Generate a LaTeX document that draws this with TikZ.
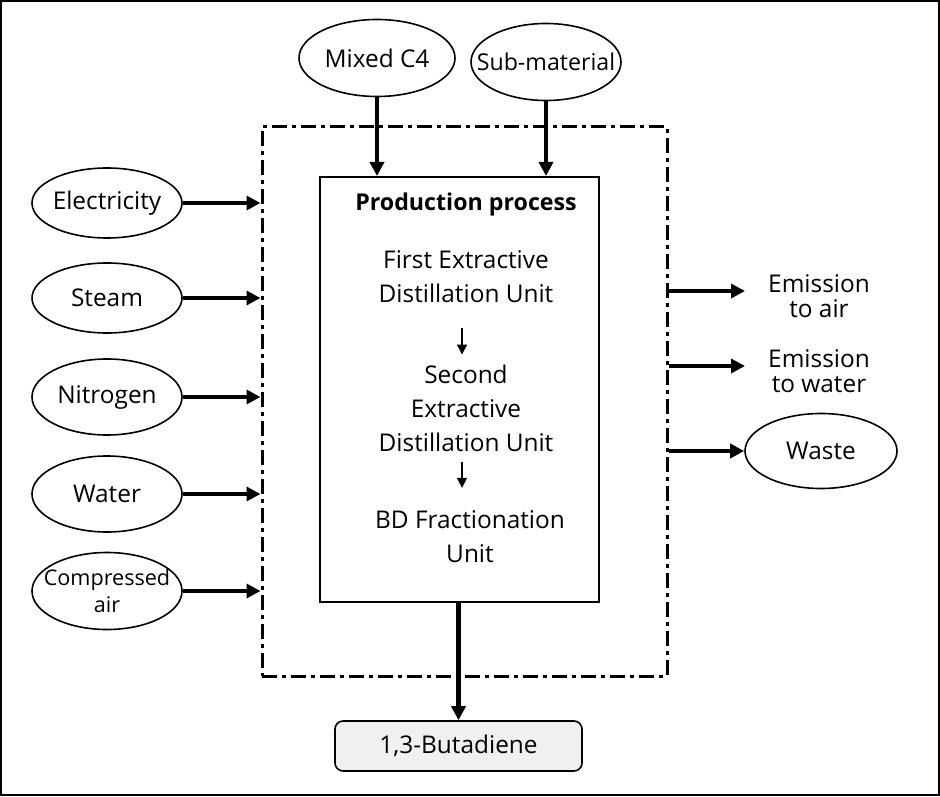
\documentclass[tikz,border=0pt]{standalone}
\usepackage{fontspec}
\setmainfont{Open Sans}
\usetikzlibrary{shapes.geometric,arrows.meta}

\begin{document}
\begin{tikzpicture}
  [x=0.5pt,y=-0.5pt,every node/.style={font=\fontsize{12.2}{17}\selectfont,align=center}]
  \tikzstyle{src} = [ellipse,draw,line width=0.8pt,minimum width=75pt,minimum height=36pt,inner xsep=-15pt,inner ysep=0pt]
  \tikzstyle{flow} = [line width=2.3pt,-{Triangle[length=7pt,width=7pt]}]
  \tikzstyle{link} = [line width=0.7pt,-{Triangle[length=5pt,width=5pt]}]
  \tikzstyle{bound} = [draw,line width=1.5pt,dash pattern=on 7.5pt off 2.5pt on 2pt off 2.5pt]

  \useasboundingbox (0,0) rectangle (940,796);
  \draw[line width=1.2pt] (1,1) rectangle (939,795);

  % system boundary and process box
  \node[bound,minimum width=202.5pt,minimum height=274.5pt] (sys) at (464.5,401.5) {};
  \node[draw,line width=1pt,minimum width=139.5pt,minimum height=212.5pt] (proc) at (459.5,389.5) {};

  \node[font=\fontsize{11.6}{17}\selectfont\bfseries] (title) at (466,204) {Production process};
  \node (u1) at (466,277) {First Extractive\\Distillation Unit};
  \node (u2) at (466,408) {Second\\Extractive\\Distillation Unit};
  \node (u3) at (470,537) {BD Fractionation\\Unit};
  \draw[link,shorten <=9pt,shorten >=1.5pt] ([xshift=-2pt]u1.south) -- ([xshift=-2pt]u1.south |- u2.north);
  \draw[link,shorten <=2pt,shorten >=8pt] ([xshift=-2pt]u2.south) -- ([xshift=-2pt]u2.south |- u3.north);

  % raw materials
  \node[src,minimum width=78pt,minimum height=38.5pt] (mix) at (377,58) {Mixed C4};
  \node[src,minimum width=75pt,minimum height=38.5pt,font=\fontsize{11.6}{17}\selectfont] (sub) at (546,62) {Sub-material};
  \draw[flow] (mix) -- (mix |- proc.north);
  \draw[flow] (sub) -- (sub |- proc.north);

  % utilities
  \foreach \n/\y/\h/\t/\f in {1/203/35/Electricity/12.2, 2/298/35/Steam/12.2, 3/397/38/Nitrogen/12.2, 4/494/38/Water/12.2, 5/591/38.5/{Compressed\\air}/10.8}
  {
    \node[src,minimum height=\h pt,font=\fontsize{\f}{13.5}\selectfont] (e\n) at (107,\y) {\t};
    \draw[flow] (e\n) -- (e\n -| sys.west);
  }

  % outputs
  \node[font=\fontsize{12.2}{12.5}\selectfont] (em1) at (819,296) {Emission\\to air};
  \node[font=\fontsize{12.2}{12.5}\selectfont] (em2) at (819,371) {Emission\\to water};
  \node[src,minimum width=76pt,minimum height=37.5pt] (waste) at (821,451) {Waste};
  \coordinate (a1) at (745,291);
  \coordinate (a2) at (745,366);
  \draw[flow] (a1 -| sys.east) -- (a1);
  \draw[flow] (a2 -| sys.east) -- (a2);
  \draw[flow] (waste -| sys.east) -- (waste);

  % product
  \node[draw,rounded corners=4pt,fill=gray!12,line width=0.8pt,minimum width=123.5pt,minimum height=25pt] (bd) at (458.5,746) {1,3-Butadiene};
  \draw[flow] (proc.south -| bd.north) -- (bd.north);

\end{tikzpicture}
\end{document}
